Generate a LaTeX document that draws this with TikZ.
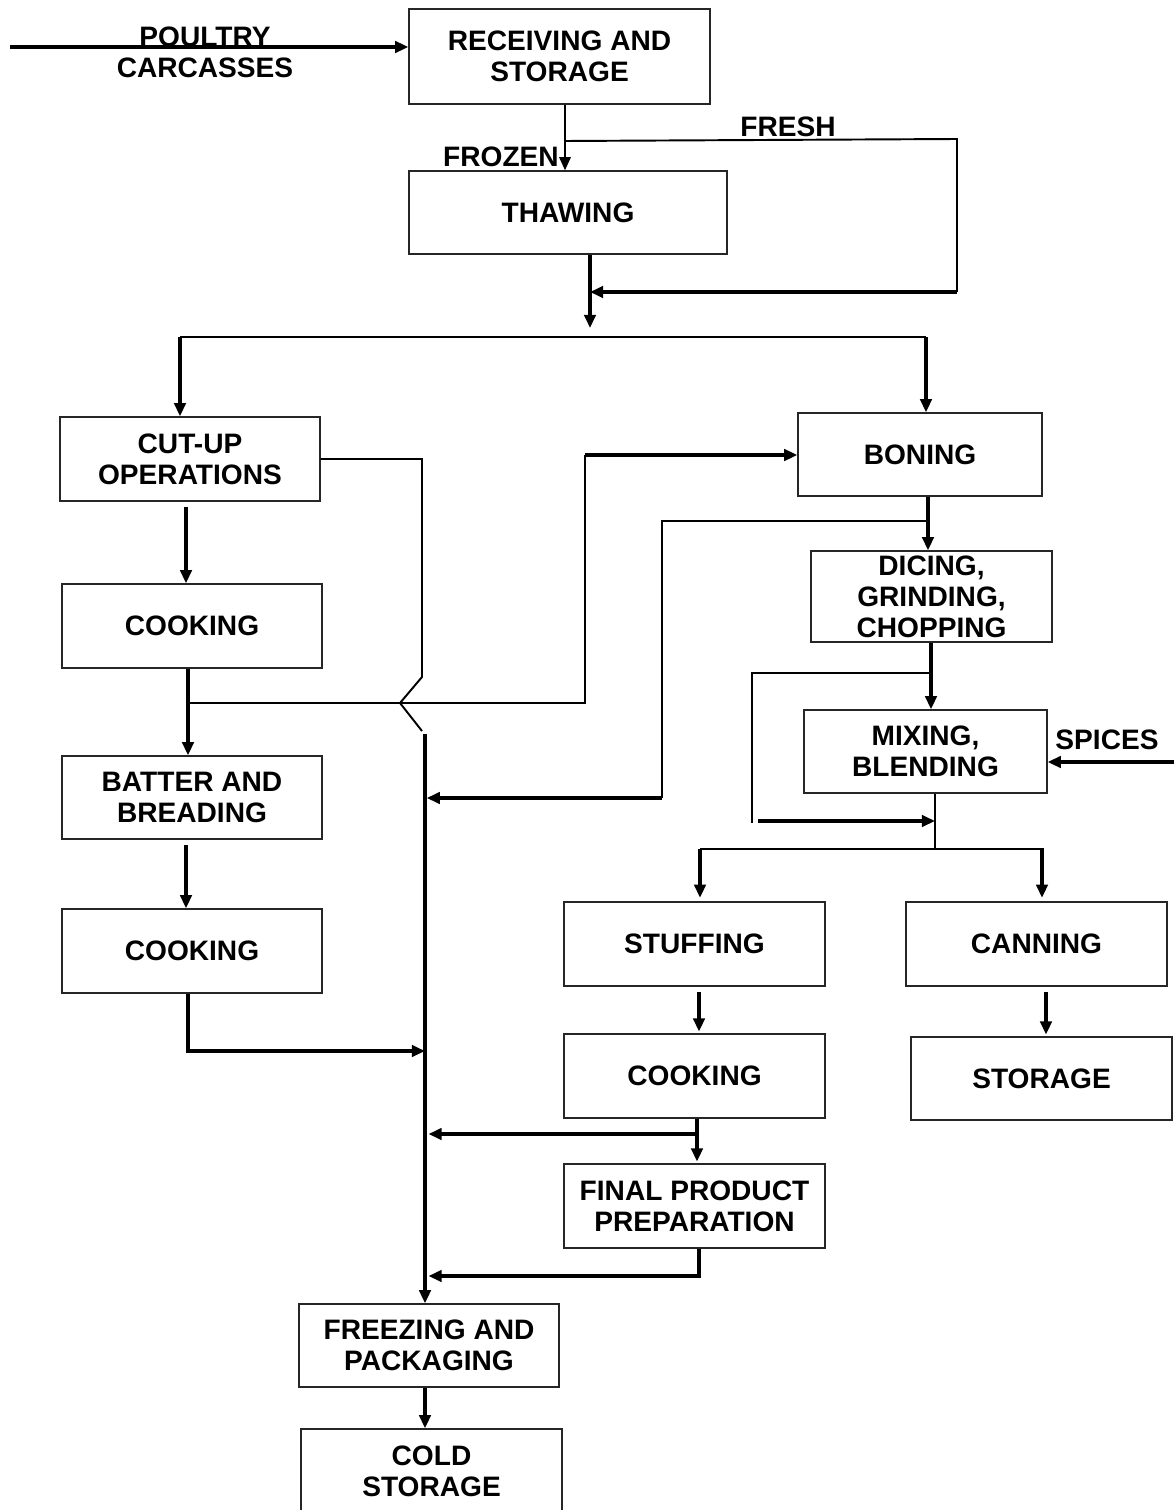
\documentclass[tikz,border=0pt]{standalone}
\usepackage{fontspec}
\setmainfont{Liberation Sans}
\usetikzlibrary{arrows.meta, positioning}

\tikzset{
  stage/.style={draw=black!85, line width=0.8pt, align=center, inner sep=0pt,
    font=\bfseries\fontsize{16}{17.6}\selectfont},
  tag/.style={align=center, inner sep=0pt, font=\bfseries\fontsize{16}{17.6}\selectfont},
  flow/.style={line width=1.1pt},
  flowb/.style={line width=1.8pt},
  mainline/.style={line width=2.3pt},
  tip/.style={-{Triangle[length=7.5pt,width=6.5pt]}},
}

\begin{document}
\begin{tikzpicture}[x=0.02cm, y=-0.02cm]
    \useasboundingbox (0,0) rectangle (1174,1510);

    % stages
    \node[stage, minimum width=6.02cm, minimum height=1.9cm] (recv) at (559.5,56.5) {RECEIVING AND\\STORAGE};
    \node[stage, minimum width=6.36cm, minimum height=1.66cm] (thaw) at (568,212.5) {THAWING};
    \node[stage, minimum width=5.2cm, minimum height=1.68cm] (cutup) at (190,459) {CUT-UP\\OPERATIONS};
    \node[stage, minimum width=5.2cm, minimum height=1.68cm] (cookA) at (192,626) {COOKING};
    \node[stage, minimum width=5.2cm, minimum height=1.66cm] (batter) at (192,797.5) {BATTER AND\\BREADING};
    \node[stage, minimum width=5.2cm, minimum height=1.68cm] (cookB) at (192,951) {COOKING};
    \node[stage, minimum width=4.88cm, minimum height=1.66cm] (boning) at (920,454.5) {BONING};
    \node[stage, minimum width=4.82cm, minimum height=1.82cm] (dicing) at (931.5,596.5) {DICING,\\GRINDING,\\CHOPPING};
    \node[stage, minimum width=4.86cm, minimum height=1.66cm] (mixing) at (925.5,751.5) {MIXING,\\BLENDING};
    \node[stage, minimum width=5.22cm, minimum height=1.68cm] (stuff) at (694.5,944) {STUFFING};
    \node[stage, minimum width=5.22cm, minimum height=1.68cm] (can) at (1036.5,944) {CANNING};
    \node[stage, minimum width=5.22cm, minimum height=1.68cm] (cookC) at (694.5,1076) {COOKING};
    \node[stage, minimum width=5.22cm, minimum height=1.66cm] (store) at (1041.5,1078.5) {STORAGE};
    \node[stage, minimum width=5.22cm, minimum height=1.68cm] (final) at (694.5,1206) {FINAL PRODUCT\\PREPARATION};
    \node[stage, minimum width=5.2cm, minimum height=1.66cm] (freeze) at (429,1345.5) {FREEZING AND\\PACKAGING};
    \node[stage, minimum width=5.22cm, minimum height=1.68cm] (cold) at (431.5,1471) {COLD\\STORAGE};

    % free labels
    \node[tag] (poultry) at (205,52) {POULTRY\\CARCASSES};
    \node[tag] (frozen) at (501,157) {FROZEN};
    \node[tag] (fresh) at (788,127) {FRESH};
    \node[tag] (spices) at (1107,740) {SPICES};

    % junctions
    \coordinate(src)at(10,47);
    \coordinate(frk)at(565,141);%fresh fork
    \coordinate(frc)at(957,139);
    \coordinate(mrg)at(590,292);
    \coordinate(splt)at(590,328);
    \coordinate(sl)at(180,337);
    \coordinate(sr)at(926,337);
    \coordinate(ca)at(186,0);
    \coordinate(cj)at(422,459);
    \coordinate(hop)at(400,703);
    \coordinate(cb)at(188,703);
    \coordinate(bj)at(585,455);
    \coordinate(mtop)at(425,734);
    \coordinate(dj)at(928,521);
    \coordinate(dk)at(662,798);
    \coordinate(mj)at(931,673);
    \coordinate(ml)at(752,673);
    \coordinate(mb)at(935,821);
    \coordinate(sj)at(935,849);
    \coordinate(sa)at(700,849);
    \coordinate(sb)at(1042,849);
    \coordinate(cs)at(1046,0);
    \coordinate(fj)at(697,1134);
    \coordinate(fk)at(699,1276);
    \coordinate(kb)at(188,1051);
    \coordinate(sp)at(1174,762);

    % receiving, thawing
    \draw[flowb, tip] (src) -- (recv.west |- src);
    \draw[flow, tip] (recv.south -| frk) -- (thaw.north -| frk);
    \draw[flow] (frk) -- (frc) -- (frc |- mrg);
    \draw[flowb, tip] (frc |- mrg) -- (mrg);
    \draw[flowb, tip] (thaw.south -| splt) -- (splt);
    \draw[flow] (sl) -- (sr);
    \draw[flowb, tip] (sl) -- (cutup.north -| sl);
    \draw[flowb, tip] (sr) -- (boning.north -| sr);

    % cut-up line
    \draw[flowb, tip] ([yshift=-3pt]cutup.south -| ca) -- (cookA.north -| ca);
    \draw[flowb, tip] (cookA.south -| cb) -- (batter.north -| cb);
    \draw[flowb, tip] ([yshift=-3pt]batter.south -| ca) -- (cookB.north -| ca);
    \draw[flow] (cutup.east) -- (cj) -- (cj |- 0,677) -- (hop) -- (cj |- 0,731);
    \draw[flow] (cb) -- (bj |- cb) -- (bj);
    \draw[flowb, tip] (bj) -- (boning.west |- bj);
    \draw[flowb, tip] (cookB.south -| kb) -- (kb) -- (kb -| mtop);
    \draw[mainline, tip] (mtop) -- (freeze.north -| mtop);

    % boning line
    \draw[flowb, tip] (boning.south -| dj) -- (dicing.north -| dj);
    \draw[flow] (dj) -- (dk |- dj) -- (dk);
    \draw[flowb, tip] (dk) -- ([xshift=1pt]dk -| mtop);
    \draw[flowb, tip] (dicing.south -| mj) -- (mixing.north -| mj);
    \draw[flow] (mj) -- (ml) -- (ml |- 0,823);
    \draw[flowb, tip] (758,821) -- (mb);
    \draw[flowb, tip] (sp) -- (mixing.east |- sp);
    \draw[flow] (mixing.south -| sj) -- (sj);
    \draw[flow] (sa) -- (1044,849);
    \draw[flowb, tip] (sa) -- ([yshift=2pt]stuff.north -| sa);
    \draw[flowb, tip] (sb) -- ([yshift=2pt]can.north -| sb);
    \draw[flowb, tip] ([yshift=-3pt]stuff.south -| fk) -- ([yshift=1pt]cookC.north -| fk);
    \draw[flowb, tip] ([yshift=-3pt]can.south -| cs) -- ([yshift=1pt]store.north -| cs);
    \draw[flowb, tip] (cookC.south -| fj) -- ([yshift=1pt]final.north -| fj);
    \draw[flowb, tip] (fj) -- ([xshift=2pt]fj -| mtop);
    \draw[flowb, tip] (final.south -| fk) -- (fk) -- ([xshift=2pt]fk -| mtop);
    \draw[flowb, tip] (freeze.south -| mtop) -- (cold.north -| mtop);
\end{tikzpicture}
\end{document}
